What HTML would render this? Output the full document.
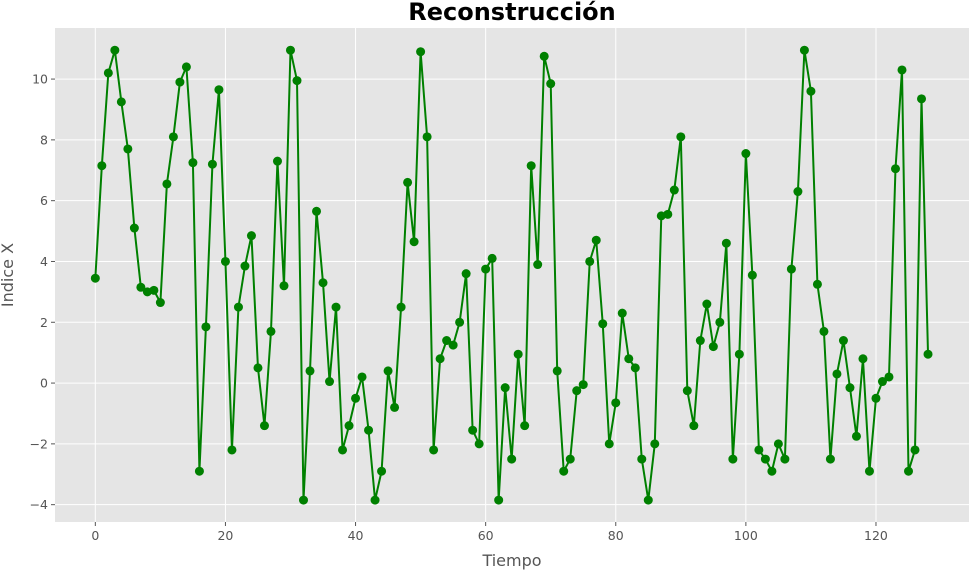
<!DOCTYPE html>
<html><head><meta charset="utf-8"><style>
body{margin:0;background:#fff;}
svg{display:block;font-family:"DejaVu Sans","Liberation Sans",sans-serif;}
</style></head><body>
<svg id="chart" width="969" height="570"></svg>
<script>
const xValues = Array.from({length:129},(_, i)=>i);
const yValues = [3.45,7.15,10.2,10.95,9.25,7.7,5.1,3.15,3.0,3.05,2.65,6.55,8.1,9.9,10.4,7.25,-2.9,1.85,7.2,9.65,
4.0,-2.2,2.5,3.85,4.85,0.5,-1.4,1.7,7.3,3.2,10.95,9.95,-3.85,0.4,5.65,3.3,0.05,2.5,-2.2,-1.4,
-0.5,0.2,-1.55,-3.85,-2.9,0.4,-0.8,2.5,6.6,4.65,10.9,8.1,-2.2,0.8,1.4,1.25,2.0,3.6,-1.55,-2.0,
3.75,4.1,-3.85,-0.15,-2.5,0.95,-1.4,7.15,3.9,10.75,9.85,0.4,-2.9,-2.5,-0.25,-0.05,4.0,4.7,1.95,-2.0,
-0.65,2.3,0.8,0.5,-2.5,-3.85,-2.0,5.5,5.55,6.35,8.1,-0.25,-1.4,1.4,2.6,1.2,2.0,4.6,-2.5,0.95,
7.55,3.55,-2.2,-2.5,-2.9,-2.0,-2.5,3.75,6.3,10.95,9.6,3.25,1.7,-2.5,0.3,1.4,-0.15,-1.75,0.8,-2.9,
-0.5,0.05,0.2,7.05,10.3,-2.9,-2.2,9.35,0.95];
const xTicks = [0,20,40,60,80,100,120];
const yTicks = [-4,-2,0,2,4,6,8,10];

const NS="http://www.w3.org/2000/svg";
const svg=document.getElementById('chart');
const L=55,R=969,T=28,B=522;
const xMin=-6.2,xMax=134.3,yMin=-4.57,yMax=11.68;
const sx=v=>L+(v-xMin)/(xMax-xMin)*(R-L);
const sy=v=>B-(v-yMin)/(yMax-yMin)*(B-T);
function mk(tag,attrs){const e=document.createElementNS(NS,tag);for(const k in attrs)e.setAttribute(k,attrs[k]);svg.appendChild(e);return e;}

let bg=mk('rect',{x:L,y:T,width:R-L,height:B-T,fill:'#e5e5e5'});



xTicks.forEach(t=>{
  const g=mk('line',{x1:sx(t),x2:sx(t),y1:T,y2:B,stroke:'#fff','stroke-width':1});
  
  
  const tk=mk('line',{x1:sx(t),x2:sx(t),y1:B,y2:B+4,stroke:'#555'});
  
  
  const tx=mk('text',{x:sx(t),y:B+18,'text-anchor':'middle','font-size':12.5,fill:'#555'});
  tx.textContent=t;
  
  
});
yTicks.forEach(t=>{
  const g=mk('line',{x1:L,x2:R,y1:sy(t),y2:sy(t),stroke:'#fff','stroke-width':1});
  
  
  const tk=mk('line',{x1:L-4,x2:L,y1:sy(t),y2:sy(t),stroke:'#555'});
  
  
  const tx=mk('text',{x:L-7,y:sy(t)+4.5,'text-anchor':'end','font-size':12.5,fill:'#555'});
  tx.textContent=(t<0?'\u2212'+Math.abs(t):t);
  
  
});

const pts=xValues.map((x,i)=>sx(x).toFixed(2)+','+sy(yValues[i]).toFixed(2)).join(' ');
const line=mk('polyline',{points:pts,fill:'none',stroke:'#008000','stroke-width':2,'stroke-linejoin':'round'});


xValues.forEach((x,i)=>{
  const c=mk('circle',{cx:sx(x),cy:sy(yValues[i]),r:4.5,fill:'#008000'});
  
  
});

const title=mk('text',{x:(L+R)/2,y:20,'text-anchor':'middle','font-size':24,'font-weight':'bold',fill:'#000'});
title.textContent='Reconstrucción';


const xl=mk('text',{x:(L+R)/2,y:566,'text-anchor':'middle','font-size':16,fill:'#555'});
xl.textContent='Tiempo';


const yl=mk('text',{x:13,y:(T+B)/2,'text-anchor':'middle','font-size':16,fill:'#555',transform:'rotate(-90 13 '+((T+B)/2)+')'});
yl.textContent='Indice X';


</script>
</body></html>
